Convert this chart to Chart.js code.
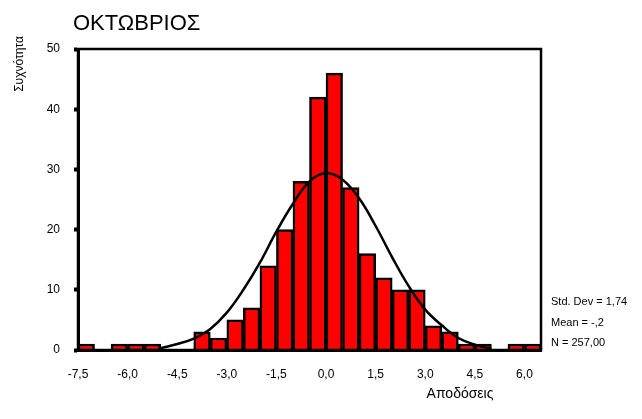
<!DOCTYPE html>
<html>
<head>
<meta charset="utf-8">
<script src="https://cdn.jsdelivr.net/npm/chart.js@4/dist/chart.umd.min.js"></script>
<style>
    body { margin: 0; background: #fff; }
    #wrap { position: relative; width: 642px; height: 419px; font-family: "Liberation Sans", Arial, sans-serif; color: #000; }
    .txt { position: absolute; white-space: nowrap; line-height: 1; }
</style>
</head>
<body>
<div id="wrap">
    <canvas id="histChart" width="642" height="419"></canvas>
    <div class="txt" style="left:73px; top:23px; font-size:22px; transform:translateY(-50%);">ΟΚΤΩΒΡΙΟΣ</div>
    <div class="txt" style="left:460px; top:393px; font-size:14px; transform:translate(-50%,-50%);">Αποδόσεις</div>
    <div class="txt" style="left:551px; top:301px; font-size:11px; transform:translateY(-50%);">Std. Dev = 1,74</div>
    <div class="txt" style="left:551px; top:322px; font-size:11px; transform:translateY(-50%);">Mean = -,2</div>
    <div class="txt" style="left:551px; top:342px; font-size:11px; transform:translateY(-50%);">N = 257,00</div>
</div>
<script>
// Histogram data (bin width 0.5)
const binMids = [-7.25, -6.75, -6.25, -5.75, -5.25, -4.75, -4.25, -3.75, -3.25, -2.75,
                 -2.25, -1.75, -1.25, -0.75, -0.25, 0.25, 0.75, 1.25, 1.75, 2.25,
                 2.75, 3.25, 3.75, 4.25, 4.75, 5.25, 5.75, 6.25];
const counts = [1, 0, 1, 1, 1, 0, 0, 3, 2, 5,
                7, 14, 20, 28, 42, 46, 27, 16, 12, 10,
                10, 4, 3, 1, 1, 0, 1, 1];

// Normal curve
const curveX = [-5.0, -4.5, -4.0, -3.5, -3.0, -2.5, -2.0, -1.5, -1.0, -0.5, 0.0,
                0.5, 1.0, 1.5, 2.0, 2.5, 3.0, 3.5, 4.0, 4.5, 5.0];
const curveY = [0.3, 1.0, 1.9, 3.5, 6.2, 10.0, 14.5, 19.7, 24.3, 28.0, 29.4,
                28.3, 25.2, 20.6, 15.4, 10.6, 6.7, 4.1, 2.0, 0.9, 0.2];

const xTicks = [-7.5, -6.0, -4.5, -3.0, -1.5, 0.0, 1.5, 3.0, 4.5, 6.0];
const yTicks = [0, 10, 20, 30, 40, 50];

function comma(v) {
    return v.toFixed(1).replace('.', ',');
}

// box round the plot + the rotated y label
const frame = {
    id: 'frame',
    afterDraw(chart) {
        const a = chart.chartArea, c = chart.ctx;
        c.save();
        c.strokeStyle = '#000';
        c.lineWidth = 2.5;
        c.strokeRect(a.left, a.top, a.right - a.left, a.bottom - a.top);
        c.translate(20, 64);
        c.rotate(-Math.PI / 2);
        c.fillStyle = '#000';
        c.font = '12px "Liberation Sans"';
        c.textAlign = 'center';
        c.textBaseline = 'middle';
        c.fillText('Συχνότητα', 0, 0);
        c.restore();
    }
};

new Chart(document.getElementById('histChart'), {
    type: 'bar',
    data: {
        datasets: [{
            type: 'line',
            data: curveX.map((x, i) => ({ x: x, y: curveY[i] })),
            borderColor: '#000',
            borderWidth: 2.5,
            pointRadius: 0,
            tension: 0.4,
            fill: false,
            order: 0
        }, {
            data: binMids.map((x, i) => ({ x: x, y: counts[i] })),
            backgroundColor: '#ff0000',
            borderColor: '#000',
            borderWidth: 2.5,
            barPercentage: 1,
            categoryPercentage: 1,
            order: 1
        }]
    },
    options: {
        responsive: false,
        animation: false,
        layout: { padding: { left: 0, right: 101, top: 49, bottom: 0 } },
        plugins: {
            legend: { display: false },
            tooltip: { enabled: false }
        },
        scales: {
            x: {
                type: 'linear',
                min: -7.5,
                max: 6.5,
                offset: false,
                afterFit: s => { s.height = 69; },
                afterBuildTicks: s => { s.ticks = xTicks.map(v => ({ value: v })); },
                grid: { display: false },
                border: { display: true, color: '#000', width: 3 },
                ticks: {
                    color: '#000',
                    padding: 9,
                    maxRotation: 0,
                    autoSkip: false,
                    font: { family: 'Liberation Sans', size: 12 },
                    callback: v => comma(v)
                }
            },
            y: {
                min: 0,
                max: 50,
                afterFit: s => { s.width = 78; },
                afterBuildTicks: s => { s.ticks = yTicks.map(v => ({ value: v })); },
                grid: {
                    drawOnChartArea: false,
                    drawTicks: true,
                    tickLength: 4,
                    tickWidth: 4,
                    tickColor: '#000'
                },
                border: { display: true, color: '#000', width: 3 },
                ticks: {
                    color: '#000',
                    padding: 14,
                    font: { family: 'Liberation Sans', size: 12 }
                }
            }
        }
    },
    plugins: [frame]
});
</script>
</body>
</html>
